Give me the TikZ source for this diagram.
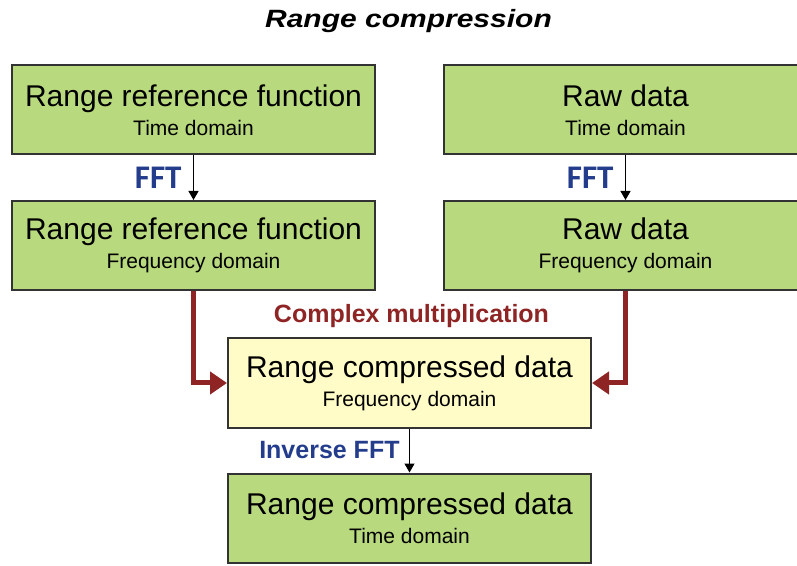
\documentclass[tikz,border=0pt]{standalone}
\usepackage{fontspec}
\setmainfont{Liberation Sans}
\newfontfamily\fftfont{Carlito}
\usetikzlibrary{arrows.meta}
\definecolor{boxgreen}{RGB}{185,217,126}
\definecolor{boxyellow}{RGB}{255,252,200}
\definecolor{boxline}{RGB}{51,51,51}
\definecolor{multred}{RGB}{142,36,36}
\definecolor{fftblue}{RGB}{35,61,140}
\newcommand{\subsize}{\fontsize{21}{29}\selectfont}

\begin{document}
\begin{tikzpicture}[x=1pt,y=1pt,
    stepbox/.style={draw=boxline,line width=2pt,fill=boxgreen,
        minimum width=363pt,minimum height=89pt,align=center,
        font=\fontsize{30}{29}\selectfont},
    fftarrow/.style={-{Triangle[width=10pt,length=9pt]},line width=1.2pt},
    multarrow/.style={-{Triangle[width=22pt,length=17pt]},line width=5pt,
        draw=multred},
    fftlabel/.style={text=fftblue,font=\fftfont\bfseries\fontsize{33}{33}\selectfont},
    oplabel/.style={font=\bfseries\fontsize{25}{25}\selectfont}]
    % page size
    \useasboundingbox (0,0) rectangle (797,565);

    % title
    \node[anchor=base,font=\bfseries\itshape\fontsize{25}{25}\selectfont]
        (title) at (408.5,537) {\scalebox{1.2}[1]{Range compression}};

    % reference function, time and frequency
    \node[stepbox] (reftime) at (193.5,455)
        {Range reference function\\\subsize Time domain};
    \node[stepbox] (reffreq) at (193.5,319.5)
        {Range reference function\\\subsize Frequency domain};

    % raw data, time and frequency
    \node[stepbox] (rawtime) at (625.5,455)
        {Raw data\\\subsize Time domain};
    \node[stepbox] (rawfreq) at (625.5,319.5)
        {Raw data\\\subsize Frequency domain};

    % compressed data
    \node[stepbox,fill=boxyellow] (compfreq) at (409.5,182)
        {Range compressed data\\\subsize Frequency domain};
    \node[stepbox] (comptime) at (409.5,47)
        {Range compressed data\\\subsize Time domain};

    % FFT steps
    \draw[fftarrow] (reftime) -- node[fftlabel,left=8pt] (fftref) {FFT} (reffreq);
    \draw[fftarrow] (rawtime) -- node[fftlabel,left=8pt] (fftraw) {FFT} (rawfreq);

    % multiplication
    \node[oplabel,text=multred,anchor=base] (mult) at (411.5,242) {Complex multiplication};
    \draw[multarrow] (reffreq.south) |- (compfreq.west);
    \draw[multarrow] (rawfreq.south) |- (compfreq.east);

    % inverse FFT
    \draw[fftarrow] (compfreq) -- node[oplabel,text=fftblue,left=6pt] (ifft) {Inverse FFT} (comptime);
\end{tikzpicture}
\end{document}
